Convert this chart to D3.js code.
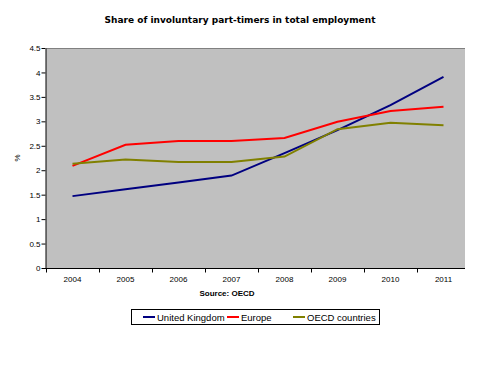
<!DOCTYPE html>
<html>
<head>
<meta charset="utf-8">
<script src="https://cdn.jsdelivr.net/npm/d3@7"></script>
<style>
    body { margin: 0; background: #fff; }
    text { font-family: 'Liberation Sans', Arial, sans-serif; }
</style>
</head>
<body>
<div class="main"></div>
<script>
var years = ['2004', '2005', '2006', '2007', '2008', '2009', '2010', '2011'];
var ukValues = [1.47, 1.61, 1.75, 1.89, 2.35, 2.82, 3.33, 3.91];
var europeValues = [2.09, 2.52, 2.60, 2.60, 2.66, 2.99, 3.21, 3.30];
var oecdValues = [2.13, 2.22, 2.17, 2.17, 2.28, 2.84, 2.97, 2.92];
var yTicks = [0, 0.5, 1, 1.5, 2, 2.5, 3, 3.5, 4, 4.5];
var seriesNames = ['United Kingdom', 'Europe', 'OECD countries'];

var options = {
    'width': 500,
    'height': 367,
};

var series = [
    { name: seriesNames[0], values: ukValues, color: '#000080' },
    { name: seriesNames[1], values: europeValues, color: '#ff0000' },
    { name: seriesNames[2], values: oecdValues, color: '#808000' }
];

var svg = d3.select('.main')
    .append('svg')
    .attr('width', options.width)
    .attr('height', options.height);

svg.append('rect')
    .attr('width', options.width)
    .attr('height', options.height)
    .style('fill', '#fff');

var plot = { left: 46, right: 465, top: 48, bottom: 268 };

var x = d3.scaleBand().domain(years).range([plot.left, 470]);
var y = d3.scaleLinear().domain([0, 4.5]).range([plot.bottom, plot.top]);

// plot area
svg.append('rect')
    .attr('x', plot.left)
    .attr('y', plot.top)
    .attr('width', plot.right - plot.left)
    .attr('height', plot.bottom - plot.top)
    .style('fill', '#c0c0c0');

svg.append('line')
    .attr('x1', plot.left).attr('x2', plot.right)
    .attr('y1', plot.top + 0.5).attr('y2', plot.top + 0.5)
    .style('stroke', '#808080')
    .style('stroke-width', 1);

// y axis
var yAxis = svg.append('g')
    .attr('transform', 'translate(' + (plot.left - 0.5) + ',0)')
    .call(d3.axisLeft(y).tickValues(yTicks).tickSize(4).tickSizeOuter(0)
        .tickFormat(function (d) { return d; }));
yAxis.select('.domain').style('stroke', '#000');
yAxis.selectAll('line').style('stroke', '#000');
yAxis.selectAll('text').style('font-size', '8px').style('fill', '#000').attr('x', -5);

// x axis
var xAxis = svg.append('g')
    .attr('transform', 'translate(0,' + (plot.bottom + 0.5) + ')');
xAxis.append('line')
    .attr('x1', plot.left - 1).attr('x2', plot.right)
    .style('stroke', '#000');
xAxis.selectAll('.tick')
    .data(years)
    .enter()
    .append('line')
    .attr('x1', function (d) { return Math.round(x(d)) + 0.5; })
    .attr('x2', function (d) { return Math.round(x(d)) + 0.5; })
    .attr('y1', 0).attr('y2', 4)
    .style('stroke', '#000');
xAxis.selectAll('.label')
    .data(years)
    .enter()
    .append('text')
    .attr('x', function (d) { return x(d) + x.bandwidth() / 2; })
    .attr('y', 13)
    .attr('text-anchor', 'middle')
    .style('font-size', '8px')
    .text(function (d) { return d; });

// lines
var line = d3.line()
    .x(function (d, i) { return x(years[i]) + x.bandwidth() / 2; })
    .y(function (d) { return y(d); });

svg.selectAll('.series')
    .data(series)
    .enter()
    .append('path')
    .attr('class', 'series')
    .attr('d', function (d) { return line(d.values); })
    .style('fill', 'none')
    .style('stroke', function (d) { return d.color; })
    .style('stroke-width', 2);

// titles
svg.append('text')
    .attr('x', 240)
    .attr('y', 23)
    .attr('text-anchor', 'middle')
    .style('font-family', 'DejaVu Sans, Verdana, sans-serif')
    .style('font-weight', 'bold')
    .style('font-size', '9px')
    .text('Share of involuntary part-timers in total employment');

svg.append('text')
    .attr('x', 227)
    .attr('y', 296)
    .attr('text-anchor', 'middle')
    .style('font-weight', 'bold')
    .style('font-size', '8px')
    .text('Source: OECD');

svg.append('text')
    .attr('transform', 'translate(20,158) rotate(-90)')
    .attr('text-anchor', 'middle')
    .style('font-size', '8px')
    .text('%');

// legend
var legend = svg.append('g');
legend.append('rect')
    .attr('x', 131.5).attr('y', 309.5)
    .attr('width', 248).attr('height', 15)
    .style('fill', '#fff')
    .style('stroke', '#000');

var legendX = [143, 227, 293];
var items = legend.selectAll('.item')
    .data(series)
    .enter()
    .append('g')
    .attr('class', 'item')
    .attr('transform', function (d, i) { return 'translate(' + legendX[i] + ',317)'; });

items.append('line')
    .attr('x1', 0).attr('x2', 12)
    .style('stroke', function (d) { return d.color; })
    .style('stroke-width', 2);

items.append('text')
    .attr('x', 14)
    .attr('y', 3.5)
    .style('font-size', '9.5px')
    .text(function (d) { return d.name; });
</script>
</body>
</html>
